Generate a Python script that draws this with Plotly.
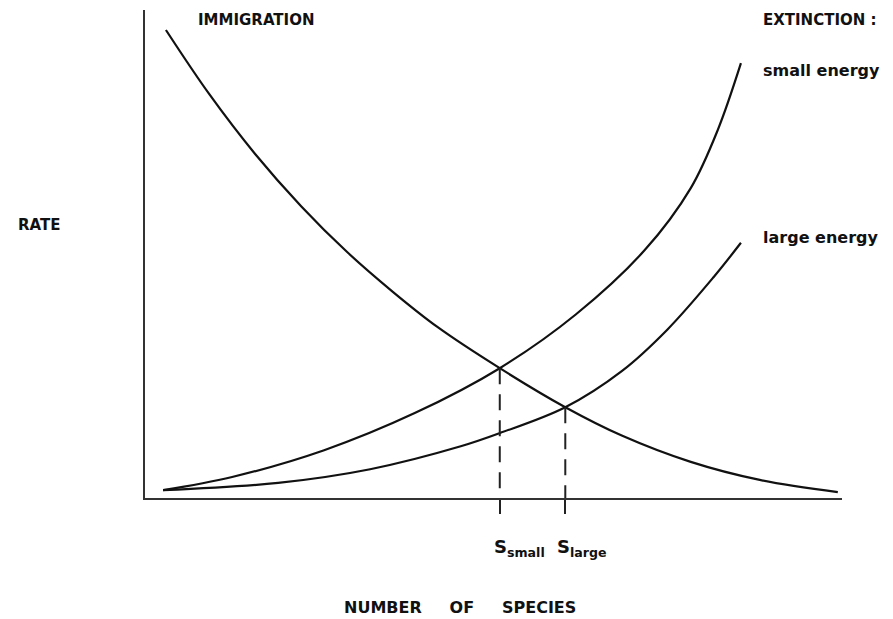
import plotly.graph_objects as go

# Number of species (x, 0-100 scale) and rate (y, 0-100 scale)
imm_x = [3.0, 9.2, 15.8, 22.4, 29.0, 35.6, 42.0, 50.9, 60.3, 68.4, 78.3, 88.2, 99.4]
imm_y = [95.9, 82.8, 70.5, 59.8, 50.4, 42.2, 35.0, 26.6, 18.6, 12.8, 7.4, 3.7, 1.2]

small_x = [2.6, 12.5, 25.7, 38.7, 50.9, 61.8, 71.7, 78.3, 82.2, 85.5]
small_y = [1.6, 4.3, 9.8, 17.4, 26.6, 37.6, 50.8, 63.5, 75.5, 89.1]

large_x = [2.6, 19.1, 32.3, 45.3, 50.9, 60.3, 68.4, 75.0, 81.6, 85.5]
large_y = [1.6, 3.1, 5.9, 10.6, 13.3, 18.6, 26.0, 34.6, 45.3, 52.3]

# equilibrium points
eq_x = [50.9, 60.3]
eq_y = [26.6, 18.6]
eq_labels = ["<b>S<sub>small</sub></b>", "<b>S<sub>large</sub></b>"]

fig = go.Figure()
line_style = dict(color="#111111", width=2.2, shape="spline", smoothing=1.0)
for xs, ys in [(imm_x, imm_y), (small_x, small_y), (large_x, large_y)]:
    fig.add_trace(go.Scatter(x=xs, y=ys, mode="lines", line=line_style,
                             hoverinfo="skip", showlegend=False))

for ex, ey in zip(eq_x, eq_y):
    fig.add_trace(go.Scatter(x=[ex, ex], y=[ey, 0], mode="lines",
                             line=dict(color="#222222", width=2, dash="16px,10px"),
                             hoverinfo="skip", showlegend=False))

# plot area on screen: x 145..842, y 10..498
def px(xp):
    return (xp - 145) / 697.0

def py(yp):
    return (498 - yp) / 488.0

ann = []
def add(text, x, y, xanchor="left", size=15):
    ann.append(dict(text=text, x=x, y=y, xref="paper", yref="paper", xanchor=xanchor,
                    yanchor="middle", showarrow=False,
                    font=dict(family="DejaVu Sans", size=size, color="#111111")))

add("<b>IMMIGRATION</b>", px(196), py(20), size=15)
add("<b>EXTINCTION :</b>", px(761), py(20), size=15)
add("<b>small energy</b>", px(761), py(70), size=16)
add("<b>large energy</b>", px(761), py(237), size=16)
add("<b>RATE</b>", px(16), py(225), size=15)
nb = "\u00a0" * 5
add("<b>NUMBER" + nb + "OF" + nb + "SPECIES</b>", px(460), py(607), xanchor="center", size=16)
add(eq_labels[0], px(492), py(548), size=18)
add(eq_labels[1], px(555), py(548), size=18)

fig.update_layout(
    width=893, height=619,
    margin=dict(l=137, r=59, t=2, b=129),
    paper_bgcolor="white", plot_bgcolor="white",
    annotations=ann,
    xaxis=dict(range=[0, 100], showgrid=False, zeroline=False, showline=True,
               linecolor="#333333", linewidth=2, tickvals=eq_x,
               ticks="outside", ticklen=14, tickwidth=2, tickcolor="#222222",
               showticklabels=False, fixedrange=True),
    yaxis=dict(range=[0, 100], showgrid=False, zeroline=False, showline=True,
               linecolor="#333333", linewidth=2, ticks="", showticklabels=False,
               fixedrange=True),
)

fig.write_html("out.html")
